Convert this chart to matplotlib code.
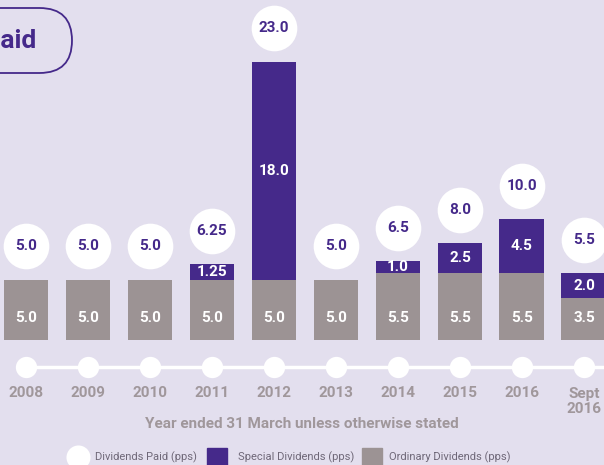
import matplotlib
matplotlib.use("Agg")
import matplotlib.pyplot as plt
from matplotlib.patches import FancyBboxPatch, Rectangle

years = ["2008", "2009", "2010", "2011", "2012", "2013", "2014", "2015", "2016", "Sept\n2016"]
ordinary = [5.0, 5.0, 5.0, 5.0, 5.0, 5.0, 5.5, 5.5, 5.5, 3.5]
special = [0.0, 0.0, 0.0, 1.25, 18.0, 0.0, 1.0, 2.5, 4.5, 2.0]
totals = ["5.0", "5.0", "5.0", "6.25", "23.0", "5.0", "6.5", "8.0", "10.0", "5.5"]
ord_labels = ["5.0", "5.0", "5.0", "5.0", "5.0", "5.0", "5.5", "5.5", "5.5", "3.5"]
spec_labels = ["", "", "", "1.25", "18.0", "", "1.0", "2.5", "4.5", "2.0"]

BG = "#e3dfee"
PURPLE = "#45298a"
GREY = "#9c9394"
TXT_GREY = "#a0979b"
LEG_GREY = "#6f6878"

plt.rcParams['font.family'] = ['Roboto', 'DejaVu Sans']

fig = plt.figure(figsize=(6.04, 4.65), dpi=100)
fig.patch.set_facecolor(BG)
ax = fig.add_axes([0, 0, 1, 1])
ax.set_facecolor(BG)
ax.set_xlim(-0.419, 9.323)
ax.set_ylim(-10.33, 28.1)
ax.axis('off')

x = list(range(len(years)))
w = 0.725
ax.bar(x, ordinary, width=w, color=GREY, zorder=2)
ax.bar(x, special, width=w, bottom=ordinary, color=PURPLE, zorder=2)

for i in x:
    top = ordinary[i] + special[i]
    ax.text(i, 1.8, ord_labels[i], ha='center', va='center', color='white',
            fontsize=11, fontweight='bold', zorder=3)
    if spec_labels[i]:
        ax.text(i, ordinary[i] + special[i] / 2, spec_labels[i], ha='center', va='center',
                color='white', fontsize=11, fontweight='bold', zorder=3)
    ax.scatter([i], [top + 2.75], s=1080, color='white', zorder=3, linewidths=0)
    ax.text(i, top + 2.75, totals[i], ha='center', va='center', color=PURPLE,
            fontsize=11, fontweight='bold', zorder=4)

# timeline
ax.plot([0, 9.323], [-2.23, -2.23], color='white', lw=2.5, zorder=2, solid_capstyle='butt')
ax.scatter(x, [-2.23] * len(x), s=235, color='white', zorder=3, linewidths=0)
for i in x:
    multi = '\n' in years[i]
    ax.text(i, -3.85 if multi else -4.38, years[i], ha='center',
            va='top' if multi else 'center',
            color=TXT_GREY, fontsize=11, fontweight='bold', linespacing=1.1)

ax.text(4.45, -6.94, "Year ended 31 March unless otherwise stated", ha='center', va='center',
        color=TXT_GREY, fontsize=11, fontweight='bold')

# legend
ly = -9.67
ax.scatter([0.84], [ly], s=300, color='white', zorder=3, linewidths=0)
ax.text(1.12, ly, "Dividends Paid (pps)", ha='left', va='center', color=LEG_GREY, fontsize=8)
ax.text(3.42, ly, "Special Dividends (pps)", ha='left', va='center', color=LEG_GREY, fontsize=8)
ax.text(5.85, ly, "Ordinary Dividends (pps)", ha='left', va='center', color=LEG_GREY, fontsize=8)

# decoration overlay in pixel units
ov = fig.add_axes([0, 0, 1, 1], facecolor='none')
ov.set_xlim(0, 604)
ov.set_ylim(465, 0)
ov.axis('off')
ov.add_patch(Rectangle((207, 448), 20, 20, color=PURPLE, clip_on=False))
ov.add_patch(Rectangle((362, 448), 20, 20, color=GREY, clip_on=False))
ov.add_patch(FancyBboxPatch((-200, 8), 272, 65,
                            boxstyle="round,pad=0,rounding_size=32.5",
                            facecolor='none', edgecolor=PURPLE, lw=1.3))
ov.text(36, 41, "Dividends Paid", ha='right', va='center', color=PURPLE,
        fontsize=19, fontweight='bold')

fig.savefig("out.png", dpi=100, facecolor=BG)
